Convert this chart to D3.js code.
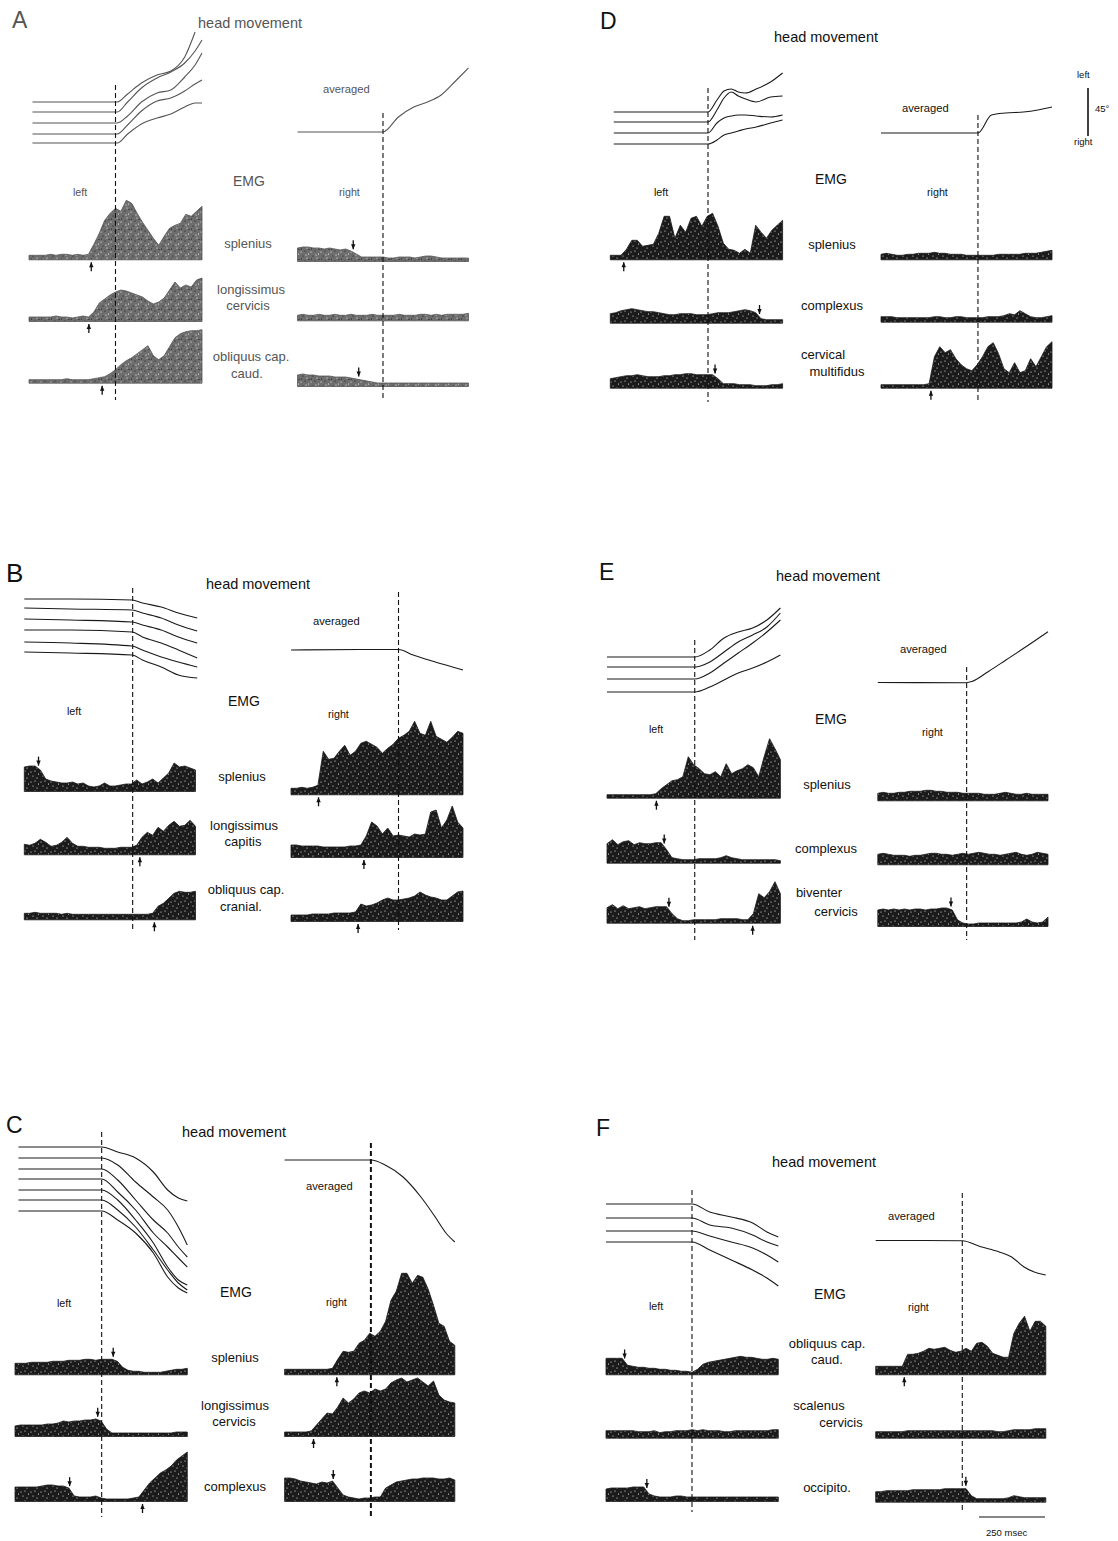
<!DOCTYPE html>
<html lang="en">
<head>
<meta charset="utf-8">
<title>Head movement and neck EMG</title>
<script src="https://d3js.org/d3.v7.min.js"></script>
<style>
  body { margin: 0; background: #fff; }
  svg text { font-family: "Liberation Sans", Arial, sans-serif; }
</style>
</head>
<body>
<script>
// ---------- data ----------
// head traces: v in px-units above the panel's head origin, t in % of the trace window
var headT_A = [2, 51, 57, 65, 74, 82, 90, 96, 100];
var head_A = [
  [48, 48, 56, 67, 75, 79, 93, 118, null],
  [38, 38, 48, 62, 72, 78, 87, 99, 110],
  [27, 27, 34, 48, 57, 60, 73, 85, 97],
  [16, 16, 25, 39, 49, 52, 59, 66, 70],
  [7, 7, 16, 26, 32, 36, 43, 47, 47]
];
var avgT_A = [0, 50, 59, 68, 76, 84, 93, 100];
var avg_A = [18, 18, 33, 43, 48, 55, 70, 82];

var headT_D = [2, 56.7, 61.9, 66, 70.2, 74.3, 78.5, 84.7, 93, 100];
var head_D = [
  [38, 38, 50, 59, 61, 58, 57, 61, 68, 77],
  [28, 28, 40, 52, 58, 54, 51, 48, 53, 54],
  [17, 17, 27, 32, 34, 35, 35, 34, 33, 35],
  [6, 6, 10, 15, 17, 19, 21, 23, 27, 30]
];
var avgT_D = [0, 56.7, 64.6, 72.9, 83.3, 91.7, 100];
var avg_D = [17, 17, 35, 37, 38, 40, 43];

var headT_B = [0, 27, 63, 69, 80, 90, 101];
var head_B = [
  [101, 101, 100, 97, 93, 87, 82],
  [92, 91, 90, 87, 82, 75, 69],
  [81, 80, 78, 75, 70, 63, 57],
  [70, 70, 68, 63, 57, 50, 42],
  [58, 57, 54, 50, 43, 38, 33],
  [48, 47, 45, 40, 33, 25, 22]
];
var avgT_B = [0, 40, 62.5, 71, 83, 100];
var avg_B = [50, 50.5, 50.5, 45, 38.5, 30];

var headT_E = [0, 50.6, 59.3, 67.5, 75.7, 84, 92.2, 100];
var head_E = [
  [43, 43, 50, 62, 68, 72, 80, 92],
  [33, 33, 38, 48, 58, 65, 73, 87],
  [21, 21, 27, 37, 47, 57, 68, 80],
  [8, 8, 13, 20, 27, 32, 38, 45]
];
var avgT_E = [0, 52, 55.3, 64.8, 75.3, 85.7, 100];
var avg_E = [17.5, 17.3, 18.5, 28.3, 40, 51.7, 68.3];

var headT_C = [2, 50.3, 59.6, 70, 80.3, 88.6, 94.8, 100];
var head_C = [
  [163, 163, 158, 152, 138, 120, 112, 109],
  [152, 152, 145, 128, 113, 100, 83, 65],
  [141, 141, 130, 110, 90, 77, 63, 53],
  [131, 131, 118, 100, 77, 63, 52, 43],
  [120, 120, 110, 90, 67, 43, 30, 25],
  [110, 110, 100, 83, 60, 40, 27, 20],
  [99, 99, 90, 77, 57, 33, 22, 17]
];
var avgT_C = [0, 50.7, 59.1, 69.6, 80.1, 88.5, 94.8, 100];
var avg_C = [150, 150, 145, 133, 113, 93, 77, 68];

var headT_F = [0, 49.9, 60.2, 72.7, 85.1, 93.4, 100];
var head_F = [
  [96, 96, 88, 83, 77, 68, 63],
  [82, 82, 75, 72, 65, 58, 54],
  [69, 69, 64, 58, 52, 45, 38],
  [58, 58, 50, 40, 30, 22, 14]
];
var avgT_F = [0, 50.9, 61.8, 72.3, 79.7, 87, 95.4, 100];
var avg_F = [59.5, 59.3, 53.3, 48.3, 43.3, 33.3, 26.7, 25];

// EMG envelopes, evenly sampled across the trace window
var emgL_A = [
  [3,3,3,3,4,3,4,4,3,4,3,4,14,25,38,45,50,47,58,55,45,36,28,20,13,22,30,33,35,44,42,47,52],
  [3,3,3,3,3,4,3,3,2,3,4,3,8,17,21,25,28,30,29,27,25,23,19,16,18,22,30,38,32,35,33,40,42],
  [2,2,2,2,2,2,2,3,2,2,2,2,3,4,5,8,12,17,21,24,28,32,36,26,22,26,35,44,48,50,51,51,52]
];
var emgR_A = [
  [12,13,13,12,12,11,12,11,10,11,9,6,3,3,3,3,3,2,2,3,3,3,2,3,4,4,3,2,2,2,2,2,2],
  [4,5,4,4,5,4,4,5,4,4,5,4,4,4,5,4,4,4,4,5,4,4,4,5,5,4,5,4,5,5,5,5,6],
  [10,11,10,10,9,9,9,8,8,8,7,6,5,4,3,2,2,2,2,2,2,2,2,2,2,2,2,2,2,2,2,2,2]
];
var emgL_D = [
  [3,3,3,9,18,18,12,13,14,25,42,42,20,33,26,40,42,32,42,45,32,15,9,8,5,9,5,33,26,20,28,33,38],
  [8,9,11,12,13,12,11,10,10,9,8,7,7,8,8,8,7,7,7,8,9,9,9,10,11,12,11,9,3,2,2,2,2],
  [8,9,10,11,11,12,11,10,10,10,11,11,12,12,13,13,12,12,12,12,8,3,3,3,2,2,2,1,1,1,2,2,3]
];
var emgR_D = [
  [4,5,4,3,3,4,4,5,5,5,6,5,5,4,4,4,3,3,3,3,3,3,4,4,4,4,4,5,5,5,6,7,8],
  [4,4,4,3,3,3,3,3,3,3,4,4,3,3,4,4,3,3,3,3,4,4,4,5,7,6,10,7,4,3,3,4,5],
  [2,2,2,2,2,2,2,2,2,3,30,40,34,37,28,22,18,16,22,30,40,44,33,18,14,24,14,16,28,20,30,40,45]
];
var emgL_B = [
  [23,24,24,20,11,9,8,7,7,8,6,7,4,3,4,7,4,4,5,6,6,10,6,8,11,7,12,17,27,23,24,22,20],
  [9,8,10,14,11,7,8,11,16,10,7,7,6,6,6,5,5,5,6,6,6,8,16,21,18,26,22,28,32,27,28,33,27],
  [5,5,6,5,5,5,5,4,5,4,4,4,4,4,4,4,4,4,4,4,4,4,4,4,5,12,15,20,25,27,26,26,27]
];
var emgR_B = [
  [5,5,6,5,6,8,42,34,35,42,48,38,42,50,52,49,46,40,45,49,55,58,62,72,60,58,72,57,54,51,56,62,60],
  [11,11,10,10,10,10,9,9,9,9,9,10,10,11,20,34,30,22,28,20,21,20,19,22,21,22,44,46,28,36,50,34,28],
  [5,5,5,5,6,6,6,6,7,7,7,7,8,16,14,15,17,20,22,20,20,21,22,24,28,25,23,22,20,20,24,28,29]
];
var emgL_E = [
  [2,2,2,2,2,2,2,2,2,3,8,12,16,17,20,40,32,28,23,22,25,20,33,23,26,28,32,29,20,40,58,48,37],
  [18,22,17,20,21,17,19,18,18,19,19,12,4,3,2,2,2,3,3,3,3,4,6,4,3,2,2,2,2,2,2,2,1],
  [14,17,13,16,13,14,15,13,14,15,15,15,8,3,1,1,2,2,2,2,2,3,3,3,3,2,2,8,28,24,30,40,28]
];
var emgR_E = [
  [6,7,6,6,7,7,8,8,8,9,9,8,8,7,7,7,6,6,6,6,5,5,5,6,7,6,5,5,6,5,5,5,5],
  [9,10,9,8,8,8,7,8,8,9,10,10,9,9,8,9,10,9,10,11,10,9,9,8,9,10,11,9,8,9,11,10,9],
  [15,16,15,16,15,16,15,16,16,15,16,16,17,17,15,5,2,1,1,2,2,2,2,2,2,2,2,3,6,3,2,3,8]
];
var emgL_C = [
  [10,10,10,11,11,11,11,12,12,12,13,13,13,14,14,13,14,14,14,12,6,3,2,2,1,1,1,1,2,3,4,4,5],
  [9,10,10,10,10,10,11,11,12,14,13,14,14,15,15,16,14,6,2,2,2,2,2,2,2,2,2,2,2,2,3,3,3],
  [13,13,13,13,13,14,15,15,14,14,12,4,3,3,3,4,2,1,1,1,1,1,2,3,10,17,22,27,30,34,40,44,48]
];
var emgR_C = [
  [4,4,4,4,4,4,4,4,4,5,14,22,21,22,30,33,40,37,42,52,73,82,100,100,90,98,96,84,68,50,47,32,28],
  [3,3,3,3,3,4,10,16,22,21,28,37,32,36,42,44,42,46,44,46,52,55,57,53,55,57,53,49,54,40,35,33,32],
  [22,22,21,19,18,17,16,18,17,19,12,5,3,2,1,2,2,3,3,12,15,18,19,20,21,21,22,22,22,21,21,22,20]
];
var emgL_F = [
  [15,15,15,15,8,7,6,6,5,5,4,4,3,3,2,2,1,4,9,11,12,13,14,15,16,17,16,16,15,14,14,15,14],
  [6,6,6,6,6,6,5,5,5,6,4,5,5,6,6,6,7,6,7,6,6,6,5,5,6,6,6,6,6,6,6,7,7],
  [11,12,12,12,12,13,13,13,6,4,3,3,3,4,4,3,3,3,3,3,3,3,3,3,3,3,3,3,3,3,3,3,3]
];
var emgR_F = [
  [7,7,7,7,7,7,19,19,20,22,25,24,25,26,23,21,22,25,22,30,31,27,20,18,16,16,40,50,57,42,52,52,47],
  [5,5,5,5,5,5,6,6,6,6,6,6,6,6,6,6,6,6,6,6,6,6,6,5,5,6,7,7,7,7,8,8,8],
  [9,9,10,10,10,10,10,11,11,11,11,11,11,12,12,12,12,12,5,2,2,2,2,2,2,3,5,4,3,3,3,3,3]
];

// muscle names per panel (lines of each label)
var muscles_A = [["splenius"], ["longissimus", "cervicis"], ["obliquus cap.", "caud."]];
var muscles_D = [["splenius"], ["complexus"], ["cervical", "multifidus"]];
var muscles_B = [["splenius"], ["longissimus", "capitis"], ["obliquus cap.", "cranial."]];
var muscles_E = [["splenius"], ["complexus"], ["biventer", "cervicis"]];
var muscles_C = [["splenius"], ["longissimus", "cervicis"], ["complexus"]];
var muscles_F = [["obliquus cap.", "caud."], ["scalenus", "cervicis"], ["occipito."]];

// onset (dashed line) times, left / right
var onset_A = [50, 50], onset_D = [56.7, 56.7], onset_B = [63.3, 62.5];
var onset_E = [50.6, 52.2], onset_C = [50.3, 50.7], onset_F = [49.9, 50.9];

// EMG onset (up) / offset (down) arrows: side, row, t
var arrows_A = [["L",0,36,"up"],["L",1,34.6,"up"],["L",2,42.3,"up"],["R",0,32.6,"down"],["R",2,35.8,"down"]];
var arrows_D = [["L",0,7.8,"up"],["L",1,86.6,"down"],["L",2,60.8,"down"],["R",2,29.2,"up"]];
var arrows_B = [["L",0,8.3,"down"],["L",1,67.5,"up"],["L",2,76,"up"],["R",0,16,"up"],["R",1,42.4,"up"],["R",2,39,"up"]];
var arrows_E = [["L",0,28.5,"up"],["L",1,33,"down"],["L",2,35.7,"down"],["L",2,84,"up"],["R",2,43,"down"]];
var arrows_C = [["L",0,57,"down"],["L",1,48,"down"],["L",2,31.7,"down"],["L",2,74,"up"],["R",0,30.7,"up"],["R",1,17,"up"],["R",2,28.6,"down"]];
var arrows_F = [["L",0,10.8,"down"],["L",2,23.7,"down"],["R",0,16.8,"up"],["R",2,53,"down"]];

// ---------- layout ----------
var panels = [
  { name: "A", headT: headT_A, head: head_A, avgT: avgT_A, avg: avg_A, emgL: emgL_A, emgR: emgR_A,
    muscles: muscles_A, arrows: arrows_A, onset: onset_A,
    lay: { letter: [12, 28], title: [198, 28], L: [29, 202], R: [297.5, 468.5], headY0: 150,
      avgLabel: [323, 93], emg: [233, 186], left: [73, 196], right: [339, 196],
      baseL: [258.3, 320, 381.7], baseR: [260, 319.3, 385],
      lab: [[248, 248], [251, 294], [248, 310], [251, 361], [247, 378]],
      dashL: [85, 400], dashR: [113, 400], ink: "#555", fill: "stipA" } },
  { name: "D", headT: headT_D, head: head_D, avgT: avgT_D, avg: avg_D, emgL: emgL_D, emgR: emgR_D,
    muscles: muscles_D, arrows: arrows_D, onset: onset_D,
    lay: { letter: [600, 29], title: [774, 42], L: [610.3, 782.6], R: [881, 1052], headY0: 150,
      avgLabel: [902, 112], emg: [815, 184], left: [654, 196], right: [927, 196],
      baseL: [258.3, 321.7, 386.7], baseR: [258.3, 320.7, 386.7],
      lab: [[832, 249], [832, 310], [823, 359], [837, 376]],
      dashL: [88, 402], dashR: [115, 402], ink: "#1a1a1a", fill: "stipD" } },
  { name: "B", headT: headT_B, head: head_B, avgT: avgT_B, avg: avg_B, emgL: emgL_B, emgR: emgR_B,
    muscles: muscles_B, arrows: arrows_B, onset: onset_B,
    lay: { letter: [6, 582], title: [206, 589], L: [24.3, 195.5], R: [291, 463], headY0: 700,
      avgLabel: [313, 625], emg: [228, 706], left: [67, 715], right: [328, 718],
      baseL: [790, 853.3, 918.3], baseR: [793.3, 856, 920],
      lab: [[242, 781], [244, 830], [243, 846], [246, 894], [241, 911]],
      dashL: [588, 930], dashR: [592, 930], ink: "#1a1a1a", fill: "stipD" } },
  { name: "E", headT: headT_E, head: head_E, avgT: avgT_E, avg: avg_E, emgL: emgL_E, emgR: emgR_E,
    muscles: muscles_E, arrows: arrows_E, onset: onset_E,
    lay: { letter: [599, 580], title: [776, 581], L: [607, 780.4], R: [877.8, 1048], headY0: 700,
      avgLabel: [900, 653], emg: [815, 724], left: [649, 733], right: [922, 736],
      baseL: [796.7, 861.7, 921.7], baseR: [799.3, 863.3, 925],
      lab: [[827, 789], [826, 853], [819, 897], [836, 916]],
      dashL: [640, 940], dashR: [667, 940], ink: "#1a1a1a", fill: "stipD" } },
  { name: "C", headT: headT_C, head: head_C, avgT: avgT_C, avg: avg_C, emgL: emgL_C, emgR: emgR_C,
    muscles: muscles_C, arrows: arrows_C, onset: onset_C,
    lay: { letter: [6, 1133], title: [182, 1137], L: [15, 187.3], R: [284.6, 454.8], headY0: 1310,
      avgLabel: [306, 1190], emg: [220, 1297], left: [57, 1307], right: [326, 1306],
      baseL: [1373.3, 1435, 1500], baseR: [1373.3, 1435, 1500],
      lab: [[235, 1362], [235, 1410], [234, 1426], [235, 1491]],
      dashL: [1132, 1517], dashR: [1143, 1517], dashWR: 2, ink: "#1a1a1a", fill: "stipD" } },
  { name: "F", headT: headT_F, head: head_F, avgT: avgT_F, avg: avg_F, emgL: emgL_F, emgR: emgR_F,
    muscles: muscles_F, arrows: arrows_F, onset: onset_F,
    lay: { letter: [596, 1136], title: [772, 1167], L: [606, 778.3], R: [875.7, 1045.8], headY0: 1300,
      avgLabel: [888, 1220], emg: [814, 1299], left: [649, 1310], right: [908, 1311],
      baseL: [1373.3, 1436.7, 1500], baseR: [1373.3, 1436.7, 1500.7],
      lab: [[827, 1348], [827, 1364], [819, 1410], [841, 1427], [827, 1492]],
      dashL: [1190, 1512], dashR: [1193, 1512], ink: "#1a1a1a", fill: "stipD" } }
];

// ---------- drawing ----------
var svg = d3.select("body").append("svg")
    .attr("width", 1118)
    .attr("height", 1541);

var defs = svg.append("defs");
function stipple(id, base, dots, dark) {
  var p = defs.append("pattern").attr("id", id)
      .attr("width", 10).attr("height", 10).attr("patternUnits", "userSpaceOnUse");
  p.append("rect").attr("width", 10).attr("height", 10).attr("fill", base);
  dots.forEach(function(d, i) {
    p.append("circle").attr("cx", d[0]).attr("cy", d[1]).attr("r", 0.55)
      .attr("fill", dark && i % 2 ? "#111" : "#fff");
  });
}
var dotSpots = [[1,2],[5,1],[8.5,4],[3,6],[7,8],[1.5,9],[6,5],[9,9.5]];
stipple("stipD", "#1b1b1b", dotSpots.slice(0, 5), false);
stipple("stipA", "#6e6e6e", dotSpots, true);

function txt(g, x, y, s, size, color, anchor) {
  g.append("text").attr("x", x).attr("y", y)
    .attr("font-size", size).attr("fill", color)
    .attr("text-anchor", anchor || "start").text(s);
}

function valueAt(vals, t) {
  var f = t / 100 * (vals.length - 1);
  var i = Math.floor(f), r = f - i;
  return i >= vals.length - 1 ? vals[vals.length - 1] : vals[i] * (1 - r) + vals[i + 1] * r;
}

function drawPanel(p) {
  var lay = p.lay, ink = lay.ink;
  var g = svg.append("g").attr("class", "panel-" + p.name);

  var xL = d3.scaleLinear().domain([0, 100]).range(lay.L);
  var xR = d3.scaleLinear().domain([0, 100]).range(lay.R);
  var yHead = d3.scaleLinear().domain([0, 200]).range([lay.headY0, lay.headY0 - 200]);

  // head movement traces
  var headLine = d3.line()
      .defined(function(d) { return d[1] !== null; })
      .x(function(d) { return xL(d[0]); })
      .y(function(d) { return yHead(d[1]); })
      .curve(d3.curveMonotoneX);
  p.head.forEach(function(tr) {
    g.append("path")
      .attr("d", headLine(p.headT.map(function(t, i) { return [t, tr[i]]; })))
      .attr("fill", "none").attr("stroke", ink).attr("stroke-width", 1.1);
  });

  var avgLine = d3.line()
      .x(function(d) { return xR(d[0]); })
      .y(function(d) { return yHead(d[1]); })
      .curve(d3.curveMonotoneX);
  g.append("path")
    .attr("d", avgLine(p.avgT.map(function(t, i) { return [t, p.avg[i]]; })))
    .attr("fill", "none").attr("stroke", ink).attr("stroke-width", 1.1);

  // EMG envelopes
  var sides = [["L", xL, p.emgL, lay.baseL], ["R", xR, p.emgR, lay.baseR]];
  var yScales = { L: [], R: [] };
  sides.forEach(function(s) {
    s[2].forEach(function(vals, r) {
      var base = s[3][r];
      var xi = d3.scaleLinear().domain([0, vals.length - 1]).range(s[1].range());
      var y = d3.scaleLinear().domain([0, 100]).range([base, base - 100]);
      yScales[s[0]][r] = y;
      var area = d3.area()
          .x(function(d, i) { return xi(i); })
          .y0(base + 1.5)
          .y1(function(d) { return y(d); });
      g.append("path").attr("d", area(vals))
        .attr("fill", "url(#" + lay.fill + ")")
        .attr("stroke", ink).attr("stroke-width", 0.8).attr("stroke-linejoin", "round");
    });
  });

  // arrows
  p.arrows.forEach(function(a) {
    var x = (a[0] === "L" ? xL : xR)(a[2]);
    var vals = (a[0] === "L" ? p.emgL : p.emgR)[a[1]];
    var base = (a[0] === "L" ? lay.baseL : lay.baseR)[a[1]];
    var tip, tail;
    if (a[3] === "up") { tip = base + 4; tail = base + 13; }
    else { tip = yScales[a[0]][a[1]](valueAt(vals, a[2])) - 3; tail = tip - 9; }
    var dir = a[3] === "up" ? 1 : -1;
    g.append("line").attr("x1", x).attr("x2", x).attr("y1", tip).attr("y2", tail)
      .attr("stroke", "#111").attr("stroke-width", 1.3);
    g.append("path")
      .attr("d", "M" + x + "," + tip + "L" + (x - 2.2) + "," + (tip + 5 * dir) + "L" + (x + 2.2) + "," + (tip + 5 * dir) + "Z")
      .attr("fill", "#111");
  });

  // dashed onset lines
  [[xL(p.onset[0]), lay.dashL, 1.1], [xR(p.onset[1]), lay.dashR, lay.dashWR || 1.1]].forEach(function(d) {
    g.append("line").attr("x1", d[0]).attr("x2", d[0]).attr("y1", d[1][0]).attr("y2", d[1][1])
      .attr("stroke", "#111").attr("stroke-width", d[2]).attr("stroke-dasharray", "5,3");
  });

  // text
  var tc = p.name === "A" ? "#555" : "#111";
  txt(g, lay.letter[0], lay.letter[1], p.name, p.name === "B" ? 26 : 23, tc);
  txt(g, lay.title[0], lay.title[1], "head  movement", 14.5, tc);
  txt(g, lay.avgLabel[0], lay.avgLabel[1], "averaged", 11.2, tc);
  txt(g, lay.emg[0], lay.emg[1], "EMG", 14, tc);
  txt(g, lay.left[0], lay.left[1], "left", 10.7, tc);
  txt(g, lay.right[0], lay.right[1], "right", 10.7, tc);
  var k = 0;
  p.muscles.forEach(function(lines) {
    lines.forEach(function(s) {
      txt(g, lay.lab[k][0], lay.lab[k][1], s, 13, tc, "middle");
      k++;
    });
  });
}

panels.forEach(drawPanel);

// calibration bars
var cal = svg.append("g").attr("class", "calibration");
cal.append("line").attr("x1", 1088).attr("x2", 1088).attr("y1", 88).attr("y2", 136)
  .attr("stroke", "#111").attr("stroke-width", 1.6);
txt(cal, 1077, 78, "left", 9.5, "#111");
txt(cal, 1095, 112, "45°", 9.5, "#111");
txt(cal, 1074, 145, "right", 9.5, "#111");
cal.append("line").attr("x1", 979).attr("x2", 1045).attr("y1", 1517).attr("y2", 1517)
  .attr("stroke", "#111").attr("stroke-width", 1.2);
txt(cal, 986, 1536, "250 msec", 9.5, "#111");
</script>
</body>
</html>
